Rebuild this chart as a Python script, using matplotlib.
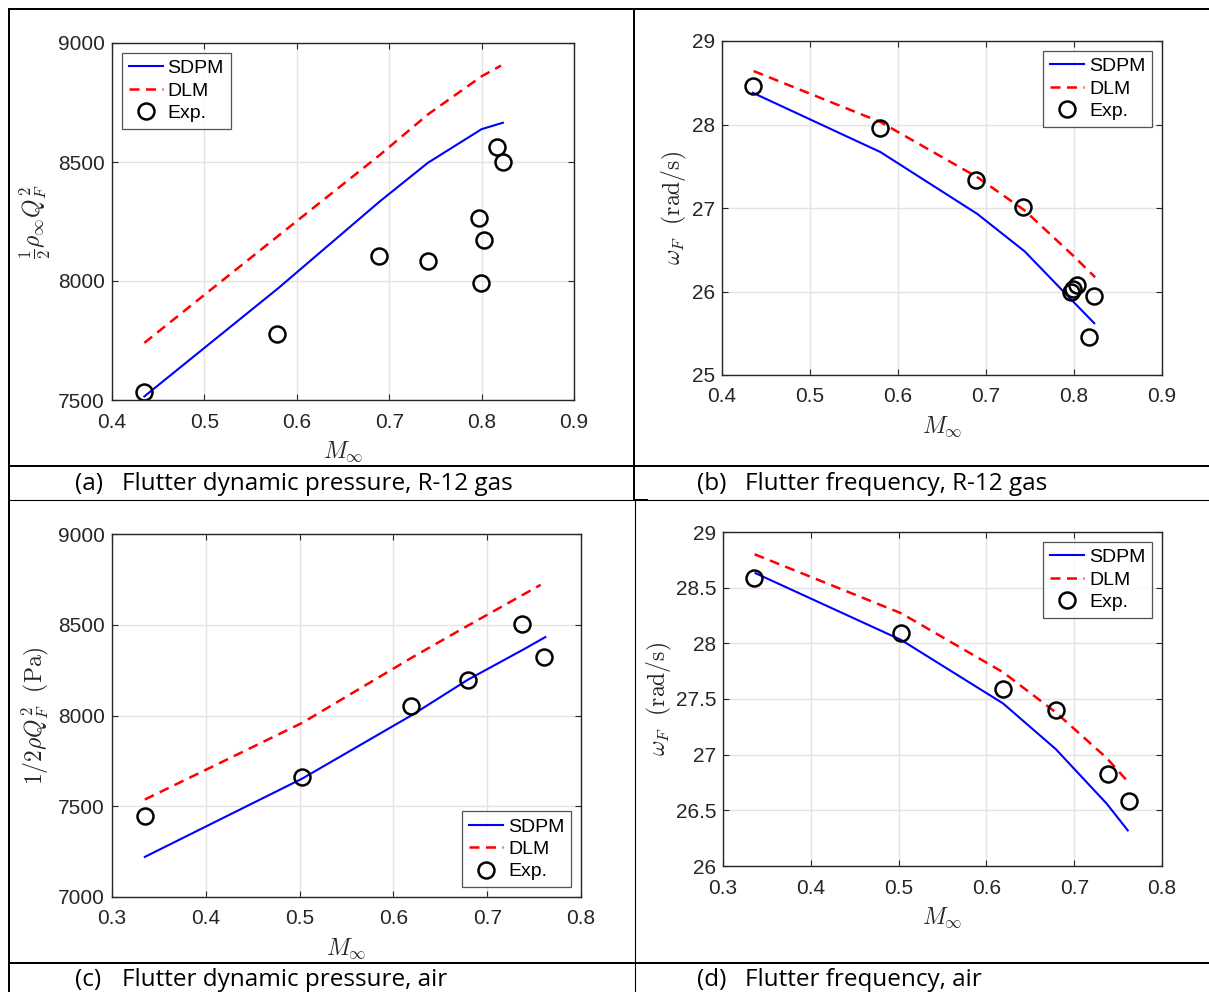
import matplotlib
matplotlib.use("Agg")
import matplotlib.pyplot as plt
from matplotlib.lines import Line2D

plt.rcParams['mathtext.fontset'] = 'cm'
plt.rcParams['font.family'] = ['Liberation Sans', 'DejaVu Sans']

# ---------------- data ----------------
# (a) R-12 gas, dynamic pressure
a_sdpm_m = [0.435, 0.58, 0.69, 0.742, 0.80, 0.823]
a_sdpm_q = [7515, 7970, 8335, 8497, 8638, 8665]
a_dlm_m = [0.435, 0.58, 0.69, 0.742, 0.80, 0.821]
a_dlm_q = [7740, 8190, 8530, 8700, 8860, 8905]
a_exp_m = [0.435, 0.579, 0.689, 0.742, 0.797, 0.803, 0.799, 0.817, 0.823]
a_exp_q = [7535, 7776, 8106, 8082, 8264, 8173, 7991, 8561, 8498]

# (b) R-12 gas, frequency
b_sdpm_m = [0.435, 0.58, 0.69, 0.744, 0.799, 0.823]
b_sdpm_w = [28.38, 27.67, 26.93, 26.48, 25.88, 25.62]
b_dlm_m = [0.436, 0.58, 0.69, 0.744, 0.799, 0.824]
b_dlm_w = [28.64, 28.03, 27.37, 26.97, 26.43, 26.17]
b_exp_m = [0.435, 0.579, 0.689, 0.742, 0.797, 0.799, 0.803, 0.817, 0.823]
b_exp_w = [28.46, 27.96, 27.33, 27.01, 26.00, 26.03, 26.08, 25.45, 25.95]

# (c) air, dynamic pressure
c_sdpm_m = [0.335, 0.503, 0.620, 0.679, 0.738, 0.762]
c_sdpm_q = [7221, 7653, 8003, 8196, 8362, 8432]
c_dlm_m = [0.335, 0.503, 0.620, 0.679, 0.738, 0.757]
c_dlm_q = [7537, 7960, 8320, 8494, 8665, 8720]
c_exp_m = [0.335, 0.503, 0.619, 0.679, 0.737, 0.761]
c_exp_q = [7445, 7662, 8054, 8193, 8504, 8322]

# (d) air, frequency
d_sdpm_m = [0.337, 0.503, 0.619, 0.679, 0.737, 0.761]
d_sdpm_w = [28.63, 28.03, 27.46, 27.05, 26.56, 26.32]
d_dlm_m = [0.336, 0.503, 0.619, 0.679, 0.737, 0.762]
d_dlm_w = [28.80, 28.27, 27.74, 27.38, 26.97, 26.75]
d_exp_m = [0.335, 0.503, 0.619, 0.679, 0.738, 0.762]
d_exp_w = [28.59, 28.09, 27.59, 27.40, 26.83, 26.58]

captions = [("(a)", "Flutter dynamic pressure, R-12 gas"),
            ("(b)", "Flutter frequency, R-12 gas"),
            ("(c)", "Flutter dynamic pressure, air"),
            ("(d)", "Flutter frequency, air")]
legend_labels = ["SDPM", "DLM", "Exp."]

W, H = 1209, 992
fig = plt.figure(figsize=(W / 100, H / 100), dpi=100)


def px_axes(l, t, r, b):
    return fig.add_axes([l / W, 1 - b / H, (r - l) / W, (b - t) / H])


TXT = '#262626'


def style(ax, xlim, ylim, xticks, yticks, yfmt):
    ax.set_xlim(*xlim)
    ax.set_ylim(*ylim)
    ax.set_xticks(xticks)
    ax.set_yticks(yticks)
    ax.set_xticklabels([f"{v:g}" for v in xticks])
    ax.set_yticklabels([yfmt(v) for v in yticks])
    ax.grid(True, color='#e3e3e3', linewidth=1.0)
    ax.set_axisbelow(True)
    for s in ax.spines.values():
        s.set_color(TXT)
        s.set_linewidth(1.0)
    ax.tick_params(direction='in', top=True, right=True, length=4, width=0.8,
                   color=TXT, labelcolor=TXT, labelsize=15, pad=5)
    ax.tick_params(axis='x', pad=9)
    ax.set_xlabel(r'$M_\infty$', fontsize=17, color=TXT, labelpad=6)


def plot_panel(ax, sm, sv, dm, dv, em, ev, loc):
    l1, = ax.plot(sm, sv, '-', color='#0000ff', lw=1.5)
    l2, = ax.plot(dm, dv, '--', color='#ff0000', lw=1.8, dashes=(4.0, 2.6))
    l3, = ax.plot(em, ev, 'o', mfc='none', mec='black', mew=1.8, ms=11.5)
    leg = ax.legend([l1, l2, l3], legend_labels, loc=loc, fontsize=14,
                    frameon=True, fancybox=False, edgecolor=TXT,
                    borderpad=0.35, labelspacing=0.25, handlelength=1.75,
                    handletextpad=0.25, borderaxespad=0.5)
    leg.get_frame().set_linewidth(0.9)
    for t in leg.get_texts():
        t.set_color('black')
    return leg


# (a)
axa = px_axes(112, 43, 574, 400)
plot_panel(axa, a_sdpm_m, a_sdpm_q, a_dlm_m, a_dlm_q, a_exp_m, a_exp_q, 'upper left')
style(axa, (0.4, 0.9), (7500, 9000), [0.4, 0.5, 0.6, 0.7, 0.8, 0.9],
      [7500, 8000, 8500, 9000], lambda v: f"{v:d}")
axa.set_ylabel(r'$\frac{1}{2}\rho_\infty Q_F^2$', fontsize=17, color=TXT)
axa.yaxis.set_label_coords(-0.128, 0.5)

# (b)
axb = px_axes(722, 41, 1162, 375)
plot_panel(axb, b_sdpm_m, b_sdpm_w, b_dlm_m, b_dlm_w, b_exp_m, b_exp_w, 'upper right')
style(axb, (0.4, 0.9), (25, 29), [0.4, 0.5, 0.6, 0.7, 0.8, 0.9],
      [25, 26, 27, 28, 29], lambda v: f"{v:g}")
axb.set_ylabel(r'$\omega_F\ \ (\mathrm{rad/s})$', fontsize=17, color=TXT)
axb.yaxis.set_label_coords(-0.075, 0.5)

# (c)
axc = px_axes(112, 534, 581, 897)
plot_panel(axc, c_sdpm_m, c_sdpm_q, c_dlm_m, c_dlm_q, c_exp_m, c_exp_q, 'lower right')
style(axc, (0.3, 0.8), (7000, 9000), [0.3, 0.4, 0.5, 0.6, 0.7, 0.8],
      [7000, 7500, 8000, 8500, 9000], lambda v: f"{v:d}")
axc.set_ylabel(r'$1/2\rho Q_F^2\ \ (\mathrm{Pa})$', fontsize=17, color=TXT)
axc.yaxis.set_label_coords(-0.13, 0.5)

# (d)
axd = px_axes(723, 532, 1162, 866)
plot_panel(axd, d_sdpm_m, d_sdpm_w, d_dlm_m, d_dlm_w, d_exp_m, d_exp_w, 'upper right')
style(axd, (0.3, 0.8), (26, 29), [0.3, 0.4, 0.5, 0.6, 0.7, 0.8],
      [26, 26.5, 27, 27.5, 28, 28.5, 29], lambda v: f"{v:g}")
axd.set_ylabel(r'$\omega_F\ \ (\mathrm{rad/s})$', fontsize=17, color=TXT)
axd.yaxis.set_label_coords(-0.112, 0.5)


# ---------------- table borders ----------------
def hline(y, x0, x1, lw):
    fig.add_artist(Line2D([x0 / W, x1 / W], [1 - y / H, 1 - y / H],
                          transform=fig.transFigure, color='black', lw=lw,
                          solid_capstyle='butt'))


def vline(x, y0, y1, lw):
    fig.add_artist(Line2D([x / W, x / W], [1 - y0 / H, 1 - y1 / H],
                          transform=fig.transFigure, color='black', lw=lw,
                          solid_capstyle='butt'))


thick, thin = 2.0 * 0.72, 1.1 * 0.72
hline(9, 8, W, thick)
hline(465.5, 8, W, thick)
hline(499.5, 8, W, thin)
hline(500, 634, 648, thick)
hline(963, 8, W, thick)
vline(9, 8, H, thick)
vline(633.5, 8, 500, thick)
vline(634.5, 500, H, thin)

# captions
cap_font = ['Open Sans', 'DejaVu Sans']
cap_pos = [(75, 122, 484), (697, 745, 484), (75, 122, 980), (697, 745, 980)]
for (lab, txt), (xl, xt, yc) in zip(captions, cap_pos):
    fig.text(xl / W, 1 - yc / H, lab, fontsize=17.5, family=cap_font,
             va='center', ha='left', color='black')
    fig.text(xt / W, 1 - yc / H, txt, fontsize=17.5, family=cap_font,
             va='center', ha='left', color='black')

fig.savefig('out.png', dpi=100)
